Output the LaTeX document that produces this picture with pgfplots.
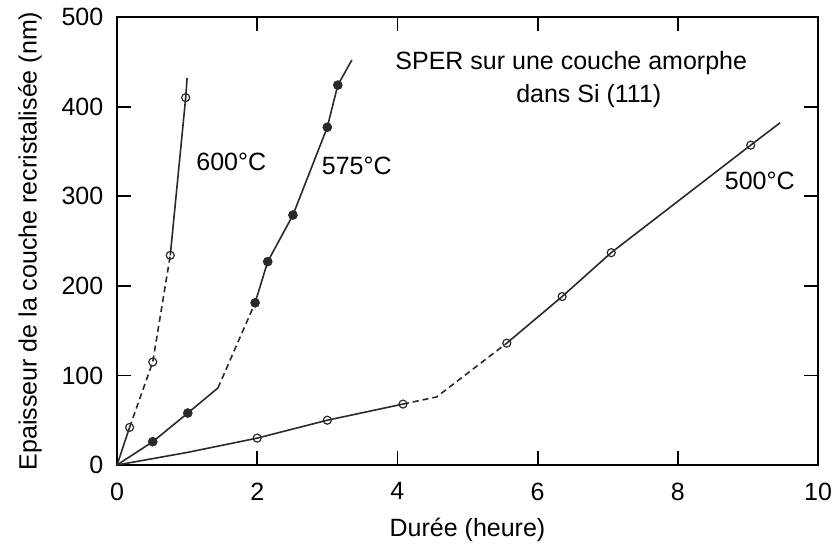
\documentclass[border=0pt]{standalone}
\usepackage{fontspec}
\setmainfont{Liberation Sans}
\usepackage{pgfplots}
\pgfplotsset{compat=1.18}
\definecolor{ink}{HTML}{2A2A2A}

\begin{document}
\fontsize{12.5}{15}\selectfont
\begin{tikzpicture}
\begin{axis}[
    scale only axis,
    width=350.5pt, height=224pt,
    xmin=0, xmax=10, ymin=0, ymax=500,
    xtick={0,2,...,10}, ytick={0,100,...,500},
    major tick length=7pt,
    major tick style={draw=black, line width=0.9pt},
    axis line style={line width=0.9pt},
    /pgf/number format/assume math mode=true,
    ticklabel style={font=\fontsize{12.5}{15}\selectfont},
    xticklabel style={yshift=-4.5pt},
    yticklabel style={xshift=-2.5pt},
    xlabel={Durée (heure)},
    ylabel={Epaisseur de la couche recristalisée (nm)},
    every axis x label/.style={at={(axis description cs:0.5,-0.145)}, anchor=center},
    every axis y label/.style={at={(axis description cs:-0.124,0.5)}, rotate=90, anchor=center},
    unbounded coords=jump,
    clip=false,
]

% tick marks, inward on all four sides
\addplot[black, line width=0.9pt] coordinates {
  (2,0) (2,15.6) (nan,nan) (4,0) (4,15.6) (nan,nan)
  (6,0) (6,15.6) (nan,nan) (8,0) (8,15.6) (nan,nan)
  (2,500) (2,484.4) (nan,nan) (4,500) (4,484.4) (nan,nan)
  (6,500) (6,484.4) (nan,nan) (8,500) (8,484.4) (nan,nan)
  (0,100) (0.2,100) (nan,nan) (0,200) (0.2,200) (nan,nan)
  (0,300) (0.2,300) (nan,nan) (0,400) (0.2,400) (nan,nan)
  (10,100) (9.8,100) (nan,nan) (10,200) (9.8,200) (nan,nan)
  (10,300) (9.8,300) (nan,nan) (10,400) (9.8,400)
};

% 600 C
\addplot[ink, line width=0.8pt] coordinates {(0,0) (0.18,42)};
\addplot[ink, line width=0.8pt, densely dashed] coordinates {(0.18,42) (0.51,115) (0.76,234)};
\addplot[ink, line width=0.8pt] coordinates {(0.76,234) (0.98,410) (1.0,432)};
\addplot[ink, only marks, mark=o, mark size=2pt, line width=0.6pt] coordinates {(0.18,42) (0.51,115) (0.76,234) (0.98,410)};

% 575 C
\addplot[ink, line width=0.8pt] coordinates {(0,0) (0.51,26) (1.01,58) (1.44,86)};
\addplot[ink, line width=0.8pt, densely dashed] coordinates {(1.44,86) (1.97,181)};
\addplot[ink, line width=0.8pt] coordinates {(1.97,181) (2.15,227) (2.51,279) (3.0,377) (3.15,424) (3.35,452)};
\addplot[ink, only marks, mark=*, mark size=2.2pt] coordinates {(0.51,26) (1.01,58) (1.97,181) (2.15,227) (2.51,279) (3.0,377) (3.15,424)};

% 500 C
\addplot[ink, line width=0.8pt] coordinates {(0,0) (1,14) (2,30) (3,50) (4.08,68)};
\addplot[ink, line width=0.8pt, densely dashed] coordinates {(4.08,68) (4.56,76) (5.56,136)};
\addplot[ink, line width=0.8pt] coordinates {(5.56,136) (6.35,188) (7.05,237) (9.04,357) (9.46,382)};
\addplot[ink, only marks, mark=o, mark size=2pt, line width=0.6pt] coordinates {(2,30) (3,50) (4.08,68) (5.56,136) (6.35,188) (7.05,237) (9.04,357)};

\node[anchor=base] at (axis cs:1.63,329) {600°C};
\node[anchor=base] at (axis cs:3.42,324) {575°C};
\node[anchor=base] at (axis cs:9.17,307) {500°C};
\node[anchor=base] at (axis cs:6.48,441) {SPER sur une couche amorphe};
\node[anchor=base] at (axis cs:6.73,405) {dans Si (111)};
\end{axis}
\pgfresetboundingbox
\path[use as bounding box] ([shift={(-58.5pt,-44pt)}]current axis.south west) rectangle ([shift={(7.5pt,8.5pt)}]current axis.north east);
\end{tikzpicture}
\end{document}
